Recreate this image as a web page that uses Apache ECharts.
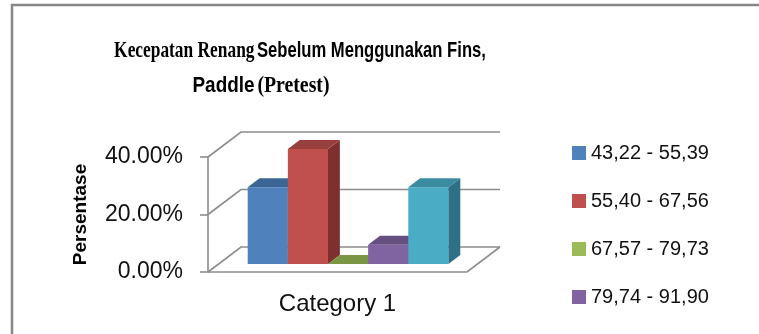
<!DOCTYPE html>
<html>
<head>
<meta charset="utf-8">
<script src="https://cdn.jsdelivr.net/npm/echarts@6/dist/echarts.min.js"></script>
<style>
  html, body { margin: 0; padding: 0; background: #fff; }
  #chart { width: 759px; height: 334px; }
</style>
</head>
<body>
<div id="chart"></div>
<script>
const categories = ['Category 1']
const seriesNames = ['43,22 - 55,39', '55,40 - 67,56', '67,57 - 79,73', '79,74 - 91,90', '91,91 - 104,07']
const seriesValues = [0.2667, 0.4, 0, 0.0667, 0.2667]
const yTicks = [0, 0.2, 0.4]

const frontColors = ['#4F81BD', '#C0504D', '#9BBB59', '#8064A2', '#4BACC6']
const topColors = ['#3A6595', '#98403E', '#7A9645', '#654F81', '#3A8AA0']
const sideColors = ['#2F5380', '#7E302E', '#62783A', '#52406A', '#2E7085']

// depth of the 3d box (front plane -> back wall), in px
const depth = [33, -25]
const barPlane = 0.32   // where the bars stand inside the box
const barDepth = 0.36   // how deep one bar is
const barFrac = 0.155   // bar width as part of the category band

const chart = echarts.init(document.getElementById('chart'))

// 3d bar: front, top and right side
function barRenderer(i) {
  return function (params, api) {
    const base = api.coord([api.value(0), 0])
    const top = api.coord([api.value(0), api.value(1)])
    const band = api.size([1, 0])[0]
    const w = band * barFrac
    const x0 = base[0] - 2.5 * w + i * w + depth[0] * barPlane
    const x1 = x0 + w
    const yb = base[1] + depth[1] * barPlane
    const yt = top[1] + depth[1] * barPlane
    const dx = depth[0] * barDepth
    const dy = depth[1] * barDepth
    return {
      type: 'group',
      children: [{
        type: 'polygon',
        shape: { points: [[x0, yb], [x1, yb], [x1, yt], [x0, yt]] },
        style: { fill: frontColors[i] }
      }, {
        type: 'polygon',
        shape: { points: [[x1, yb], [x1 + dx, yb + dy], [x1 + dx, yt + dy], [x1, yt]] },
        style: { fill: sideColors[i] }
      }, {
        type: 'polygon',
        shape: { points: [[x0, yt], [x1, yt], [x1 + dx, yt + dy], [x0 + dx, yt + dy]] },
        style: { fill: topColors[i] }
      }]
    }
  }
}

// gridlines on the left wall / back wall, and the floor
function frameRenderer(params, api) {
  const p = api.coord([0, api.value(1)])
  const band = api.size([1, 0])[0]
  const xL = p[0] - band / 2
  const xR = p[0] + band / 2
  const y = p[1]
  const lineStyle = { stroke: '#8c8c8c', lineWidth: 1.6, fill: null }
  const children = [{
    type: 'polyline',
    shape: { points: [[xL, y], [xL + depth[0], y + depth[1]], [xR + depth[0], y + depth[1]]] },
    style: lineStyle
  }]
  if (api.value(1) === 0) {
    children.push({
      type: 'polyline',
      shape: { points: [[xL, y], [xR, y], [xR + depth[0], y + depth[1]]] },
      style: lineStyle
    })
  }
  return { type: 'group', children }
}

const series = [{
  type: 'custom',
  renderItem: frameRenderer,
  data: yTicks.map(t => [0, t]),
  silent: true,
  z: 1
}].concat(seriesNames.map((name, i) => ({
  name,
  type: 'custom',
  renderItem: barRenderer(i),
  itemStyle: { color: frontColors[i] },
  data: [[0, seriesValues[i]]],
  encode: { x: 0, y: 1 },
  z: 2
})))

const titleRich = {
  s: { fontFamily: 'Liberation Serif', fontWeight: 'bold', fontSize: 23, fill: '#000' },
  a: { fontFamily: 'Liberation Sans', fontWeight: 'bold', fontSize: 22, fill: '#000' }
}

const option = {
  animation: false,
  backgroundColor: '#fff',
  graphic: [{
    type: 'rect',
    shape: { x: 12, y: 5, width: 800, height: 400 },
    style: { fill: null, stroke: '#878787', lineWidth: 2.5 },
    silent: true
  }, {
    type: 'text',
    x: 300,
    y: 51,
    scaleX: 0.755,
    style: {
      text: '{s|Kecepatan Renang} {a|Sebelum Menggunakan Fins,}',
      align: 'center',
      verticalAlign: 'middle',
      rich: titleRich
    }
  }, {
    type: 'text',
    x: 261,
    y: 86,
    scaleX: 0.86,
    style: {
      text: '{a|Paddle} {s|(Pretest)}',
      align: 'center',
      verticalAlign: 'middle',
      rich: titleRich
    }
  }],
  legend: {
    data: seriesNames,
    orient: 'vertical',
    left: 567,
    top: 138,
    height: 300,
    icon: 'rect',
    itemWidth: 14,
    itemHeight: 14,
    itemGap: 28,
    selectedMode: false,
    textStyle: { fontFamily: 'Liberation Sans', fontSize: 20, lineHeight: 20, color: '#111' }
  },
  grid: { left: 208, right: 292, top: 157, bottom: 62 },
  xAxis: {
    type: 'category',
    data: categories,
    axisLine: { show: false },
    axisTick: { show: false },
    axisLabel: { margin: 20, fontFamily: 'Liberation Sans', fontSize: 24, color: '#111' }
  },
  yAxis: {
    type: 'value',
    min: 0,
    max: 0.4,
    interval: 0.2,
    name: 'Persentase',
    nameLocation: 'middle',
    nameGap: 118,
    nameTextStyle: { fontFamily: 'Liberation Sans', fontWeight: 'bold', fontSize: 19, color: '#000' },
    axisLine: { show: true, lineStyle: { color: '#8c8c8c', width: 1.6 } },
    axisTick: { show: true, length: 8, lineStyle: { color: '#8c8c8c', width: 1.6 } },
    splitLine: { show: false },
    axisLabel: {
      margin: 25,
      fontFamily: 'Liberation Sans',
      fontSize: 23,
      color: '#111',
      formatter: v => (v * 100).toFixed(2) + '%'
    }
  },
  series
}

chart.setOption(option)
</script>
</body>
</html>
